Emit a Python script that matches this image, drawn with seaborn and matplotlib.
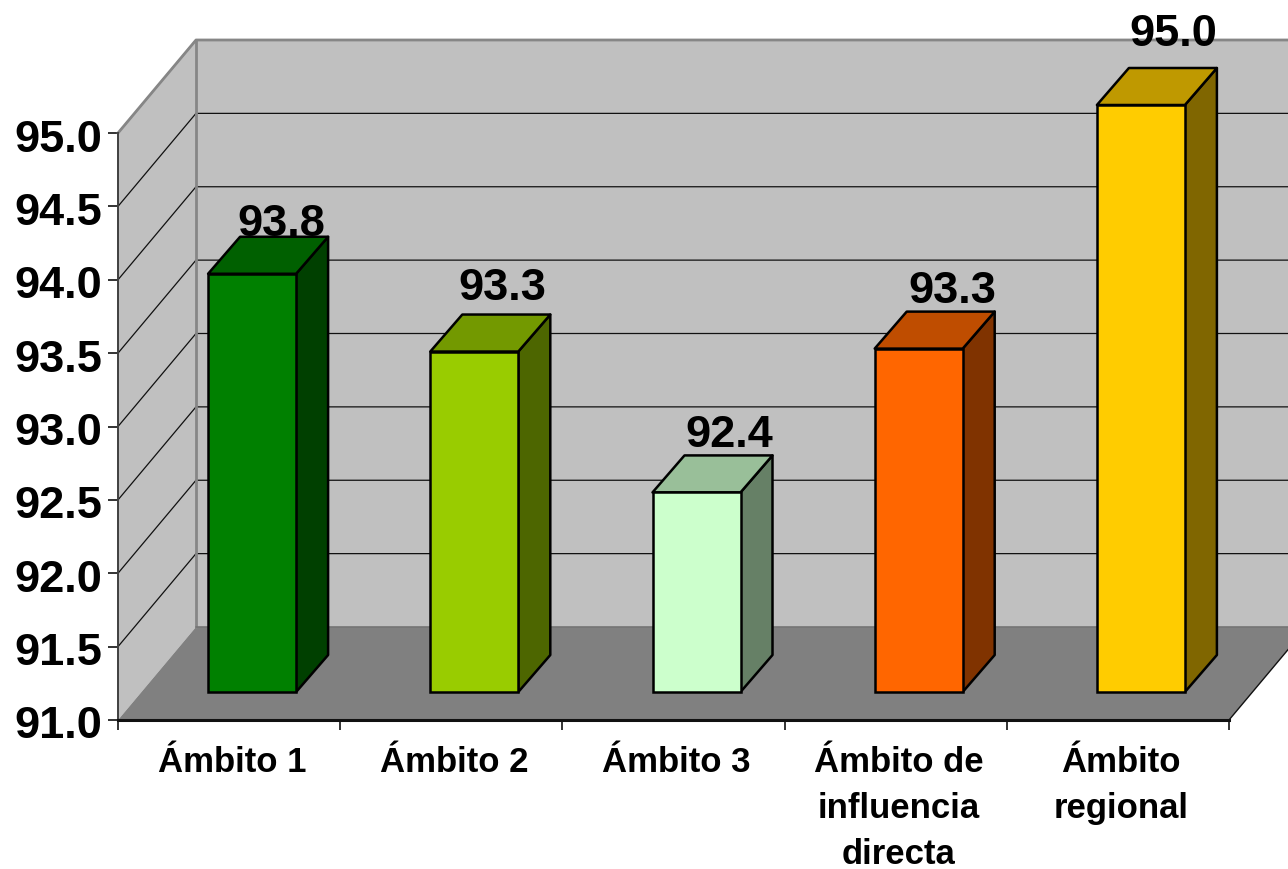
import matplotlib
matplotlib.use("Agg")
import matplotlib.pyplot as plt
import numpy as np
import pandas as pd
import seaborn as sns
from matplotlib.patches import Polygon
from matplotlib.transforms import ScaledTranslation

# chart data
categories = ["Ámbito 1", "Ámbito 2", "Ámbito 3", "Ámbito de\ninfluencia\ndirecta", "Ámbito\nregional"]
values = [93.85, 93.32, 92.36, 93.34, 95.0]
bar_colors = ["#008000", "#99CC00", "#CCFFCC", "#FF6600", "#FFCC00"]
y_ticks = [91.0, 91.5, 92.0, 92.5, 93.0, 93.5, 94.0, 94.5, 95.0]

# hand placed data labels, in pixels from the bar's front top edge
label_dx = [29, 28, 33, 34, 32]
label_dy = [38, 52, 45, 46, 59]

W, H = 1288, 869
L, R, B, T = 118, 1229, 720, 133
sx = (R - L) / 5   # pixels per category
sy = (B - T) / 4   # pixels per value unit
wall_dx, wall_dy = 78 / sx, 93 / sy
bar_dx, bar_dy = 32 / sx, 37 / sy
XMIN, XMAX, YMIN, YMAX = -0.5, 4.5, 91, 95
WALL = "#C0C0C0"
FLOOR = "#808080"
EDGE = "#868686"

sns.set_theme(style="white")
plt.rcParams["font.family"] = ["Liberation Sans", "DejaVu Sans"]

fig = plt.figure(figsize=(W / 100, H / 100), dpi=100)
ax = fig.add_axes([L / W, 1 - B / H, (R - L) / W, (B - T) / H])
ax.set_xlim(XMIN, XMAX)
ax.set_ylim(YMIN, YMAX)

# walls and floor
x0, x1 = XMIN + wall_dx, XMAX + wall_dx
ax.add_patch(Polygon([(XMIN, YMIN), (x0, YMIN + wall_dy), (x0, YMAX + wall_dy), (XMIN, YMAX)],
                     fc=WALL, ec="none", clip_on=False, zorder=1))
ax.add_patch(Polygon([(x0, YMIN + wall_dy), (x1, YMIN + wall_dy), (x1, YMAX + wall_dy), (x0, YMAX + wall_dy)],
                     fc=WALL, ec="none", clip_on=False, zorder=1))
ax.add_patch(Polygon([(XMIN, YMIN), (x0, YMIN + wall_dy), (x1, YMIN + wall_dy), (XMAX, YMIN)],
                     fc=FLOOR, ec="none", clip_on=False, zorder=1))

# gridlines run over both walls
for v in y_ticks[1:]:
    ax.plot([XMIN, x0, x1], [v, v + wall_dy, v + wall_dy], color="#111111", lw=0.9,
            clip_on=False, zorder=2, solid_joinstyle="miter")

# wall edges
ax.plot([XMIN, x0, x1], [YMAX, YMAX + wall_dy, YMAX + wall_dy], color=EDGE, lw=2, clip_on=False, zorder=3)
ax.plot([x0, x0], [YMIN + wall_dy, YMAX + wall_dy], color=EDGE, lw=2, clip_on=False, zorder=3)
ax.plot([x0, x1], [YMIN + wall_dy, YMIN + wall_dy], color="#747474", lw=1.2, clip_on=False, zorder=3)
ax.plot([XMAX, x1], [YMIN, YMIN + wall_dy], color="#111111", lw=1, clip_on=False, zorder=3)

# axis styling
for side in ["top", "right"]:
    ax.spines[side].set_visible(False)
ax.spines["left"].set_color("#404040")
ax.spines["left"].set_linewidth(1.4)
ax.spines["bottom"].set_color("#111111")
ax.spines["bottom"].set_linewidth(2.2)
for s in ax.spines.values():
    s.set_zorder(4)
ax.set_yticks(y_ticks)
ax.set_yticklabels([f"{v:.1f}" for v in y_ticks], fontsize=32.5, fontweight="bold", color="black")
ax.tick_params(axis="y", left=True, length=7.2, width=1.2, color="#111111", pad=3.6)
ax.set_xticks(np.arange(6) - 0.5)
ax.set_xticklabels([])
ax.tick_params(axis="x", which="major", bottom=True, length=7.2, width=1.2, color="#111111")
ax.set_xticks(np.arange(5), minor=True)
ax.set_xticklabels(categories, minor=True, fontsize=25, fontweight="bold", color="black", linespacing=1.5, va="top")
ax.tick_params(axis="x", which="minor", bottom=False, length=0, pad=18.5)

# nudge tick labels to where the original sits
for lab in ax.get_yticklabels():
    lab.set_transform(lab.get_transform() + ScaledTranslation(-1 / 100, -2.5 / 100, fig.dpi_scale_trans))
for lab in ax.get_xticklabels(minor=True):
    lab.set_transform(lab.get_transform() + ScaledTranslation(3 / 100, 0, fig.dpi_scale_trans))

# bars sit on their own axes, shifted back from the front edge
ax_bars = fig.add_axes([(L + 23) / W, 1 - (B - 28) / H, (R - L) / W, (B - T) / H])
ax_bars.patch.set_alpha(0)
df = pd.DataFrame({"category": categories, "value": values})
sns.barplot(data=df, x="category", y="value", hue="category", palette=bar_colors, legend=False,
            width=88 / sx, saturation=1, edgecolor="black", linewidth=1.8, ax=ax_bars)
ax_bars.set_xlim(XMIN, XMAX)
ax_bars.set_ylim(YMIN, YMAX)
ax_bars.axis("off")

bars = sorted(ax_bars.patches, key=lambda p: p.get_x())
for i, (p, color) in enumerate(zip(bars, bar_colors)):
    top = p.get_height()
    p.set_y(YMIN)
    p.set_height(top - YMIN)
    p.set_clip_on(False)
    p.set_zorder(3)
    xa, xb = p.get_x(), p.get_x() + p.get_width()
    rgb = np.array(matplotlib.colors.to_rgb(color))
    ax_bars.add_patch(Polygon([(xb, YMIN), (xb + bar_dx, YMIN + bar_dy), (xb + bar_dx, top + bar_dy), (xb, top)],
                              fc=rgb * 0.5, ec="black", lw=1.8, clip_on=False, zorder=2, joinstyle="round"))
    ax_bars.add_patch(Polygon([(xa, top), (xa + bar_dx, top + bar_dy), (xb + bar_dx, top + bar_dy), (xb, top)],
                              fc=rgb * 0.75, ec="black", lw=1.8, clip_on=False, zorder=2, joinstyle="round"))
    ax_bars.annotate(f"{top:.1f}", xy=(i, top), xytext=(label_dx[i] * 0.72, label_dy[i] * 0.72),
                     textcoords="offset points", ha="center", va="baseline",
                     fontsize=32.5, fontweight="bold", color="black", annotation_clip=False, zorder=5)

fig.savefig("out.png", dpi=100)
